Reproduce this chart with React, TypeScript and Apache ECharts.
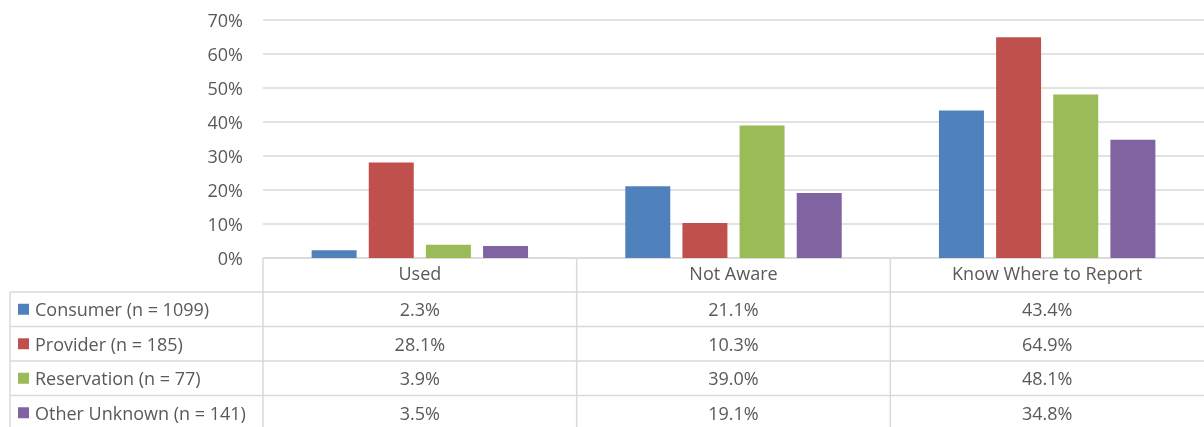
import React, { useEffect, useRef } from "react";
import * as echarts from "echarts";

const categories = ["Used", "Not Aware", "Know Where to Report"];
const seriesNames = [
  "Consumer (n = 1099)",
  "Provider (n = 185)",
  "Reservation (n = 77)",
  "Other Unknown (n = 141)",
];
const consumer = [2.3, 21.1, 43.4];
const provider = [28.1, 10.3, 64.9];
const reservation = [3.9, 39.0, 48.1];
const otherUnknown = [3.5, 19.1, 34.8];
const seriesValues = [consumer, provider, reservation, otherUnknown];
const colors = ["#4F81BD", "#C0504D", "#9BBB59", "#8064A2"];

const W = 1204;
const H = 427;
const GRID_LEFT = 263;
const GRID_TOP = 20;
const AXIS_Y = 258;
const HEADER_BOTTOM = 292;
const ROW_H = 34.5;
const TABLE_LEFT = 10;
const FONT_SIZE = 18;
const FONT = "'Open Sans', 'Noto Sans', sans-serif";
const TEXT_COLOR = "#595959";
const LINE_COLOR = "#D9D9D9";

export default function App() {
  const ref = useRef<HTMLDivElement>(null);
  useEffect(() => {
    if (!ref.current) return;
    const chart = echarts.init(ref.current, undefined, { renderer: "svg" });
    const colW = (W - GRID_LEFT) / categories.length;
    const graphics: any[] = [];
    for (let j = 0; j < categories.length; j++) {
      const x = GRID_LEFT + colW * j;
      graphics.push({
        type: "line",
        shape: { x1: x, y1: AXIS_Y, x2: x, y2: H + 5 },
        style: { stroke: LINE_COLOR, lineWidth: 1.5 },
      });
    }
    graphics.push({
      type: "line",
      shape: { x1: TABLE_LEFT, y1: HEADER_BOTTOM, x2: TABLE_LEFT, y2: H + 5 },
      style: { stroke: LINE_COLOR, lineWidth: 1.5 },
    });
    for (let i = 0; i < seriesNames.length; i++) {
      const yTop = HEADER_BOTTOM + ROW_H * i;
      graphics.push({
        type: "line",
        shape: { x1: TABLE_LEFT, y1: yTop, x2: W, y2: yTop },
        style: { stroke: LINE_COLOR, lineWidth: 1.5 },
      });
      const yc = yTop + ROW_H / 2;
      graphics.push({
        type: "rect",
        shape: { x: 18, y: yc - 5.5, width: 11, height: 11 },
        style: { fill: colors[i] },
      });
      graphics.push({
        type: "text",
        x: 35,
        y: yc,
        style: {
          text: seriesNames[i],
          fill: TEXT_COLOR,
          font: `${FONT_SIZE}px ${FONT}`,
          textAlign: "left",
          textVerticalAlign: "middle",
        },
      });
      for (let j = 0; j < categories.length; j++) {
        graphics.push({
          type: "text",
          x: GRID_LEFT + colW * (j + 0.5),
          y: yc,
          style: {
            text: seriesValues[i][j].toFixed(1) + "%",
            fill: TEXT_COLOR,
            font: `${FONT_SIZE}px ${FONT}`,
            textAlign: "center",
            textVerticalAlign: "middle",
          },
        });
      }
    }

    chart.setOption({
      animation: false,
      textStyle: { fontFamily: FONT },
      grid: {
        left: GRID_LEFT,
        right: 0,
        top: GRID_TOP,
        bottom: H - AXIS_Y,
        containLabel: false,
      },
      xAxis: {
        type: "category",
        data: categories,
        axisLine: { show: true, lineStyle: { color: LINE_COLOR, width: 1.5 } },
        axisTick: { show: false },
        axisLabel: {
          color: TEXT_COLOR,
          fontSize: FONT_SIZE,
          fontFamily: FONT,
          margin: 6,
        },
      },
      yAxis: {
        type: "value",
        min: 0,
        max: 70,
        interval: 10,
        axisLine: { show: false },
        axisTick: { show: false },
        splitLine: { lineStyle: { color: LINE_COLOR, width: 1.5 } },
        axisLabel: {
          color: TEXT_COLOR,
          fontSize: FONT_SIZE,
          fontFamily: FONT,
          margin: 20,
          formatter: (v: number) => `${v}%`,
        },
      },
      series: seriesNames.map((name, i) => ({
        name,
        type: "bar",
        data: seriesValues[i],
        itemStyle: { color: colors[i] },
        barCategoryGap: "31%",
        barGap: "27%",
      })),
      graphic: graphics,
    });
    return () => chart.dispose();
  }, []);
  return (
    <div
      ref={ref}
      style={{ position: "fixed", left: 0, top: 0, width: W, height: H }}
    />
  );
}
